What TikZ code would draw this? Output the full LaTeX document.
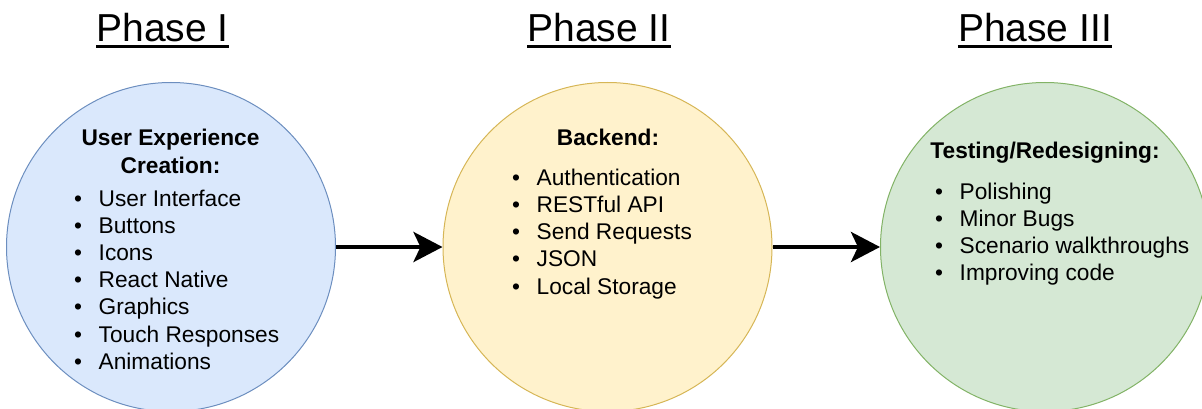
\documentclass[tikz,border=0pt]{standalone}
\usepackage{fontspec}
\setmainfont{Liberation Sans}
\usetikzlibrary{arrows.meta}
\definecolor{bfill}{HTML}{DAE8FC}\definecolor{bline}{HTML}{6C8EBF}
\definecolor{yfill}{HTML}{FFF2CC}\definecolor{yline}{HTML}{D6B656}
\definecolor{gfill}{HTML}{D5E8D4}\definecolor{gline}{HTML}{82B366}
\begin{document}
\begin{tikzpicture}[x=1pt,y=-1pt,
  phase/.style={circle, minimum size=329pt, inner sep=0pt, line width=1pt},
  ptitle/.style={font=\fontsize{39}{47}\selectfont, inner sep=0pt, anchor=base},
  uline/.style={line width=2.5pt},
  head/.style={font=\bfseries\fontsize{22.7}{27.7}\selectfont, inner sep=0pt, anchor=base},
  item/.style={font=\fontsize{22.7}{27.2}\selectfont, inner sep=0pt, anchor=base west},
  flow/.style={line width=4.5pt, -{Stealth[length=29pt,width=30pt,inset=7pt]}}]
\useasboundingbox (0,0) rectangle (1202,409);
\newcommand{\bul}[1]{\makebox[0pt]{•}\hspace{20.5pt}#1}
% circles
\node[phase, draw=bline, fill=bfill] (c1) at (171,247) {};
\node[phase, draw=yline, fill=yfill] (c2) at (607.5,247) {};
\node[phase, draw=gline, fill=gfill] (c3) at (1045,247) {};
% phase titles
\node[ptitle] (p1) at (162.5,42) {Phase I};
\node[ptitle] (p2) at (599,42) {Phase II};
\node[ptitle] (p3) at (1035,42) {Phase III};
\foreach \p in {p1,p2,p3}
  \draw[uline] ([yshift=-4.5pt]\p.base west) -- ([yshift=-4.5pt]\p.base east);
% headings
\node[head] (h1a) at (170.5,146) {User Experience};
\node[head] (h1b) at (170.5,173.7) {Creation:};
\node[head] (h2) at (608,146) {Backend:};
\node[head] (h3) at (1045,159) {Testing/Redesigning:};
% items
\foreach \t [count=\i] in {User Interface, Buttons, Icons, React Native, Graphics, Touch Responses, Animations}
  \node[item] (a\i) at (78,{206+(\i-1)*27.2}) {\bul{\t}};
\foreach \t [count=\i] in {Authentication, RESTful API, Send Requests, JSON, Local Storage}
  \node[item] (b\i) at (516,{185.3+(\i-1)*27.2}) {\bul{\t}};
\foreach \t [count=\i] in {Polishing, Minor Bugs, Scenario walkthroughs, Improving code}
  \node[item] (d\i) at (939,{199+(\i-1)*27.2}) {\bul{\t}};
% arrows
\draw[flow] (c1.east) -- (c2.west);
\draw[flow] (c2.east) -- (c3.west);
\end{tikzpicture}
\end{document}
